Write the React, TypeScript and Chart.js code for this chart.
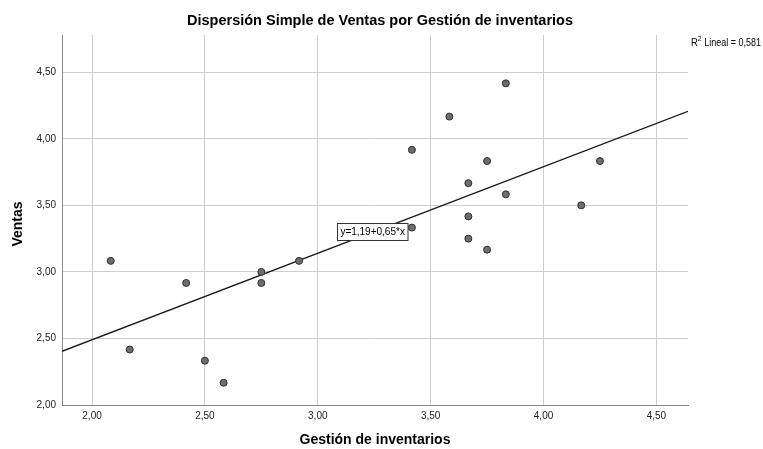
import React, { useEffect, useRef } from "react";
import { Chart, registerables } from "chart.js";

Chart.register(...registerables);

const chartTitle = "Dispersión Simple de Ventas por Gestión de inventarios";
const xTitle = "Gestión de inventarios";
const yTitle = "Ventas";
const r2Label = "0,581";
const equationText = "y=1,19+0,65*x";

const gestion = [2.083, 2.167, 2.417, 2.5, 2.583, 2.75, 2.75, 2.917, 3.417, 3.417, 3.583, 3.833, 3.75, 3.667, 3.833, 3.667, 3.667, 3.75, 4.167, 4.25];
const ventas = [3.083, 2.417, 2.917, 2.333, 2.167, 3.0, 2.917, 3.083, 3.333, 3.917, 4.167, 4.417, 3.833, 3.667, 3.583, 3.417, 3.25, 3.167, 3.5, 3.833];

const intercept = 1.19;
const slope = 0.65;

const xMin = 1.867;
const xMax = 4.64;
const yMin = 2.0;
const yMax = 4.78;
const xTicks = [2.0, 2.5, 3.0, 3.5, 4.0, 4.5];
const yTicks = [2.0, 2.5, 3.0, 3.5, 4.0, 4.5];

const equationPos = { x: 3.243, y: 3.306 };

const fmt = (v: number) => v.toFixed(2).replace(".", ",");

const FONT = "'Liberation Sans', Arial, sans-serif";

const textPlugin = {
  id: "spssText",
  afterDraw(chart: any) {
    const ctx = chart.ctx as CanvasRenderingContext2D;
    const xs = chart.scales.x;
    const ys = chart.scales.y;
    ctx.save();
    // title
    ctx.fillStyle = "#000";
    ctx.font = `bold 14.5px ${FONT}`;
    ctx.textAlign = "center";
    ctx.textBaseline = "middle";
    ctx.fillText(chartTitle, 380, 21);
    // x title
    ctx.font = `bold 14px ${FONT}`;
    ctx.fillText(xTitle, 375, 440);
    // y title
    ctx.save();
    ctx.translate(18, 224);
    ctx.rotate(-Math.PI / 2);
    ctx.fillText(yTitle, 0, 0);
    ctx.restore();
    // R2 label
    ctx.textAlign = "left";
    ctx.textBaseline = "alphabetic";
    ctx.save();
    ctx.translate(691, 46);
    ctx.scale(0.9, 1);
    ctx.font = `10.5px ${FONT}`;
    let px = 0;
    ctx.fillText("R", px, 0);
    px += ctx.measureText("R").width;
    ctx.font = `7.5px ${FONT}`;
    ctx.fillText("2", px, -5);
    px += ctx.measureText("2").width + 3;
    ctx.font = `10px ${FONT}`;
    ctx.fillText("Lineal = " + r2Label, px, 0);
    ctx.restore();
    // equation box
    const cx = xs.getPixelForValue(equationPos.x);
    const cy = ys.getPixelForValue(equationPos.y);
    ctx.font = `10px ${FONT}`;
    const w = ctx.measureText(equationText).width + 6;
    const h = 17;
    const bx = Math.round(cx - w / 2) + 0.5;
    const byy = Math.round(cy - h / 2) + 0.5;
    ctx.fillStyle = "#fff";
    ctx.fillRect(bx, byy, w, h);
    ctx.strokeStyle = "#333";
    ctx.lineWidth = 1;
    ctx.strokeRect(bx, byy, w, h);
    ctx.fillStyle = "#000";
    ctx.textAlign = "center";
    ctx.textBaseline = "middle";
    ctx.fillText(equationText, cx, byy + h / 2 + 0.5);
    ctx.restore();
  },
};

export default function App() {
  const ref = useRef<HTMLCanvasElement | null>(null);
  useEffect(() => {
    document.body.style.margin = "0";
    const points = gestion.map((g, i) => ({ x: g, y: ventas[i] }));
    const line = [
      { x: xMin, y: intercept + slope * xMin },
      { x: xMax, y: intercept + slope * xMax },
    ];
    const chart = new Chart(ref.current as HTMLCanvasElement, {
      type: "scatter",
      data: {
        datasets: [
          {
            type: "line",
            data: line,
            borderColor: "#1a1a1a",
            borderWidth: 1.3,
            pointRadius: 0,
            fill: false,
            order: 2,
          } as any,
          {
            data: points,
            backgroundColor: "#6e6e6e",
            borderColor: "#2e2e2e",
            borderWidth: 1,
            pointRadius: 3.5,
            order: 1,
          },
        ],
      },
      options: {
        animation: false,
        responsive: false,
        maintainAspectRatio: false,
        layout: { padding: { left: 0, top: 35, right: 75, bottom: 0 } },
        plugins: {
          legend: { display: false },
          title: { display: false },
          tooltip: { enabled: false },
        },
        scales: {
          x: {
            type: "linear",
            min: xMin,
            max: xMax,
            afterBuildTicks: (s: any) => {
              s.ticks = xTicks.map((v) => ({ value: v }));
            },
            afterFit: (s: any) => {
              s.height = 44;
            },
            ticks: {
              callback: (v: any) => fmt(Number(v)),
              font: { family: FONT, size: 10 },
              color: "#222",
              padding: 5,
              maxRotation: 0,
            },
            grid: { color: "#cfcfcf", lineWidth: 1, drawTicks: false },
            border: { display: true, color: "#8a8a8a", width: 1 },
          },
          y: {
            type: "linear",
            min: yMin,
            max: yMax,
            afterBuildTicks: (s: any) => {
              s.ticks = yTicks.map((v) => ({ value: v }));
            },
            afterFit: (s: any) => {
              s.width = 62;
            },
            ticks: {
              callback: (v: any) => fmt(Number(v)),
              font: { family: FONT, size: 10 },
              color: "#222",
              padding: 6,
            },
            grid: { color: "#cfcfcf", lineWidth: 1, drawTicks: false },
            border: { display: true, color: "#8a8a8a", width: 1 },
          },
        },
      },
      plugins: [textPlugin],
    } as any);
    return () => chart.destroy();
  }, []);
  return (
    <div style={{ position: "absolute", left: 0, top: 0, width: 763, height: 449, background: "#fff" }}>
      <canvas ref={ref} width={763} height={449} style={{ display: "block" }} />
    </div>
  );
}
